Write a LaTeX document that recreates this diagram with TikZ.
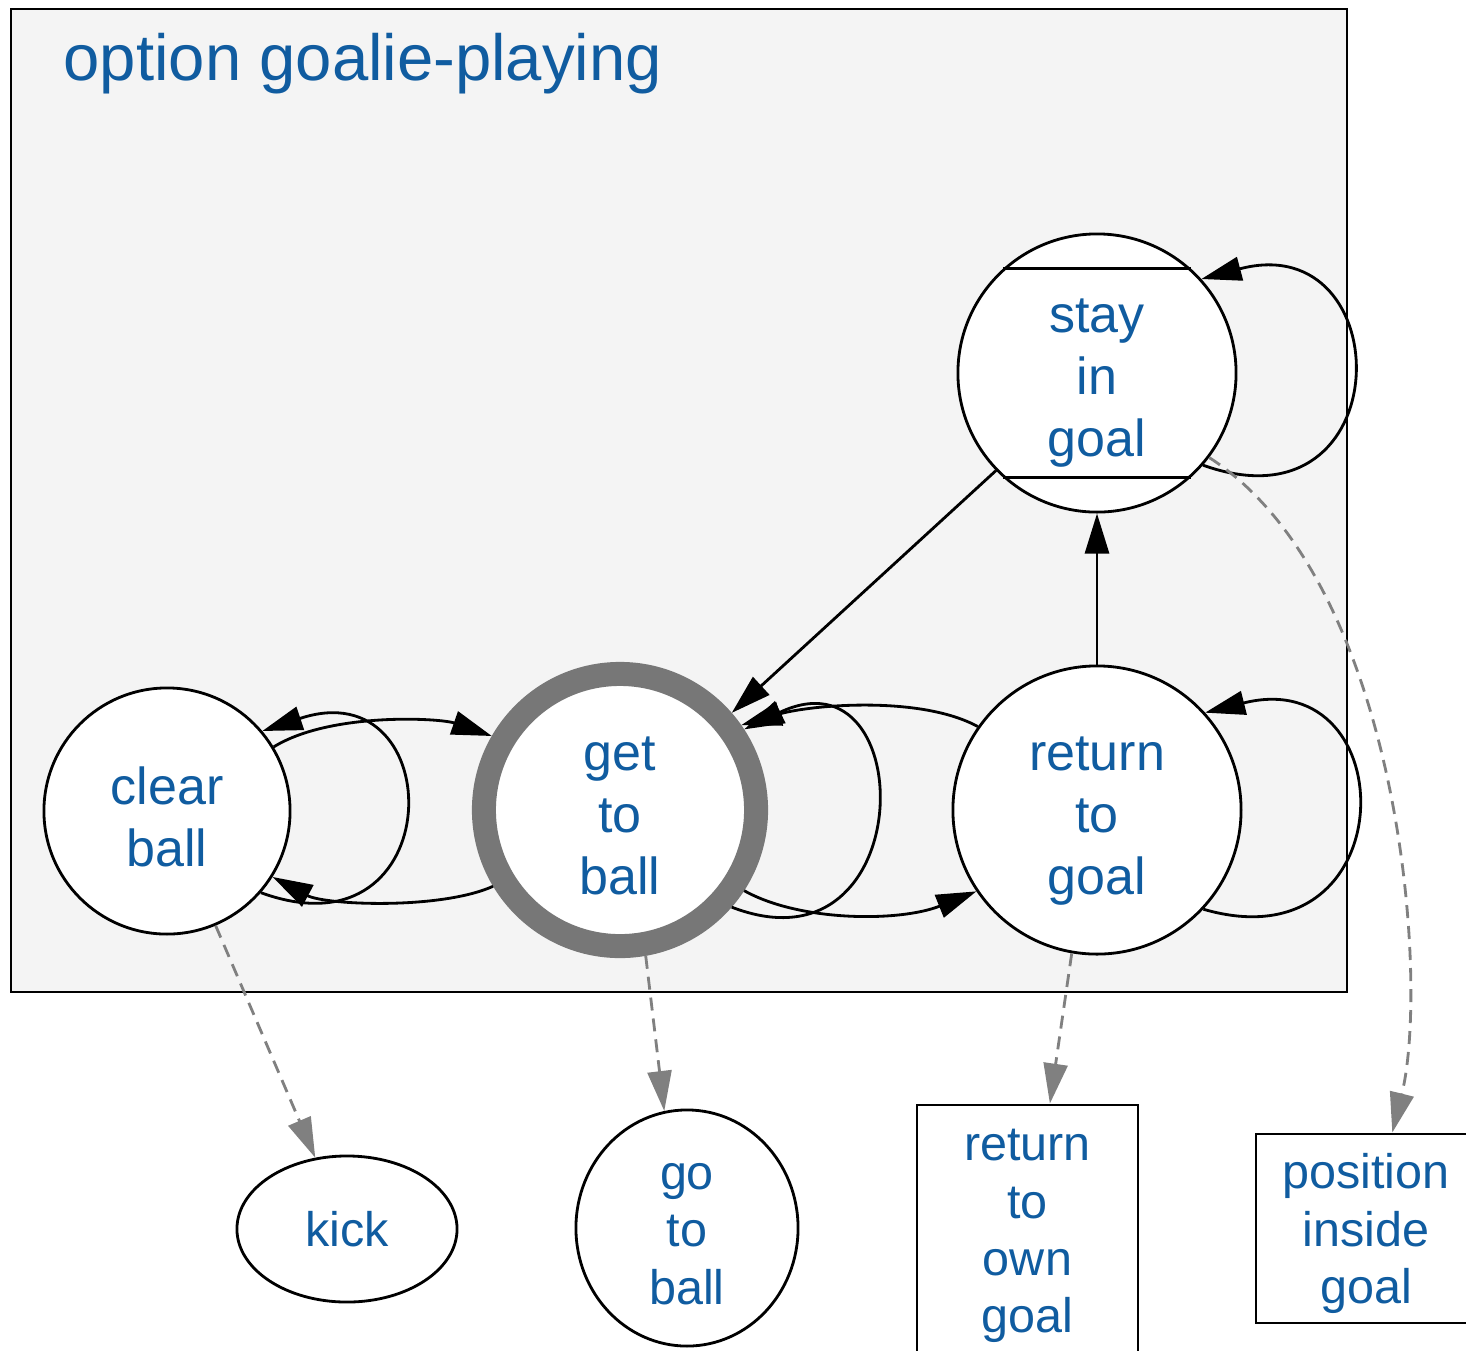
\documentclass[tikz,border=0pt]{standalone}
\usepackage{fontspec}
\setmainfont{Liberation Sans}
\usetikzlibrary{arrows.meta,shapes.geometric,calc}
\definecolor{txtblue}{RGB}{16,92,160}
\definecolor{clusterbg}{RGB}{244,244,244}
\definecolor{ringgray}{RGB}{119,119,119}
\definecolor{dashgray}{RGB}{128,128,128}
\tikzset{
  upper/.style={circle,draw=black,line width=0.8pt,fill=white,inner sep=0pt},
  uppertext/.style={text=txtblue,align=center,inner sep=0pt,font=\fontsize{14.8}{17.7}\selectfont},
  lower/.style={draw=black,line width=0.8pt,fill=white,inner sep=0pt},
  lowertext/.style={text=txtblue,align=center,inner sep=0pt,font=\fontsize{13.8}{16.3}\selectfont},
  edge/.style={line width=0.8pt,black,-{Triangle[length=4mm,width=2.4mm]}},
  dashedge/.style={line width=0.8pt,dashgray,dash pattern=on 0.13cm off 0.08cm,
    -{Triangle[length=4mm,width=2.4mm,fill=dashgray]}},
  cluster/.style={draw=black,line width=0.7pt,fill=clusterbg}
}
\begin{document}
\begin{tikzpicture}[x=0.01cm,y=-0.01cm]
\useasboundingbox (0,0) rectangle (1466,1350);
\clip (0,0) rectangle (1466,1350);
\fill[white] (0,0) rectangle (1466,1350);
% cluster
\draw[cluster] (11,9) rectangle (1347,992);
\node[anchor=base west,text=txtblue,inner sep=0pt,font=\fontsize{18.55}{22}\selectfont] (title) at (63,80) {option goalie-playing};
% nodes
\node[upper,minimum size=2.46cm,label={[uppertext,name=clearT,yshift=-0.06cm]center:{clear\\ball}}] (clear) at (167,811) {};
\node[upper,minimum size=2.72cm,draw=ringgray,line width=0.24cm,label={[uppertext,name=getT,yshift=-0.06cm]center:{get\\to\\ball}}] (get) at (620,810) {};
\node[upper,minimum size=2.88cm,label={[uppertext,name=retT,yshift=-0.11cm]center:{return\\to\\goal}}] (ret) at (1097,810) {};
\node[upper,minimum size=2.78cm,label={[uppertext,name=stayT,yshift=-0.10cm]center:{stay\\in\\goal}}] (stay) at (1097,373) {};
\draw[line width=0.8pt] (stay.132) -- (stay.48);
\draw[line width=0.8pt] (stay.228) -- (stay.312);
\node[lower,ellipse,minimum width=2.2cm,minimum height=1.46cm,label={[lowertext,name=kickT]center:kick}] (kick) at (347,1229) {};
\node[lower,ellipse,minimum width=2.22cm,minimum height=2.36cm,label={[lowertext,name=gotoT,yshift=-0.06cm]center:{go\\to\\ball}}] (goto) at (687,1228) {};
\node[lower,rectangle,minimum width=2.21cm,minimum height=2.52cm,label={[lowertext,name=ownT,yshift=-0.05cm]center:{return\\to\\own\\goal}}] (own) at (1027.5,1231) {};
\node[lower,rectangle,minimum width=2.2cm,minimum height=1.89cm,label={[lowertext,name=posT,yshift=-0.05cm]center:{position\\inside\\goal}}] (pos) at (1366,1228.5) {};
% solid edges
\draw[edge] (clear.31) .. controls (330,712) and (440,718) .. (get.150);
\draw[edge] (get.211) .. controls (440,910) and (325,905) .. (clear.-32);
\draw[edge] (clear.-41) .. controls (451,962) and (451,668) .. (clear.40);
\draw[edge] (get.-41) .. controls (921,980) and (921,645) .. (get.33);
\draw[edge] (get.-33) .. controls (800,922) and (900,922) .. (ret.214);
\draw[edge] (ret.145) .. controls (920,695) and (810,705) .. (get.35);
\draw[edge] (stay.224) -- (get.41);
\draw[edge] (ret.north) -- (stay.south);
\draw[edge] (stay.-41) .. controls (1401,536) and (1401,226) .. (stay.42);
\draw[edge] (ret.-43) .. controls (1406,968) and (1406,662) .. (ret.42);
% dashed edges
\draw[dashedge] (clear.-67) -- (kick.114);
\draw[dashedge] (get.-80) -- (goto.101);
\draw[dashedge] (ret.-100) -- ($(own.north west)!0.6!(own.north east)$);
\draw[dashedge] (stay.-37) .. controls (1400,580) and (1430,980) .. ($(pos.north west)!0.618!(pos.north east)$);
\end{tikzpicture}
\end{document}
